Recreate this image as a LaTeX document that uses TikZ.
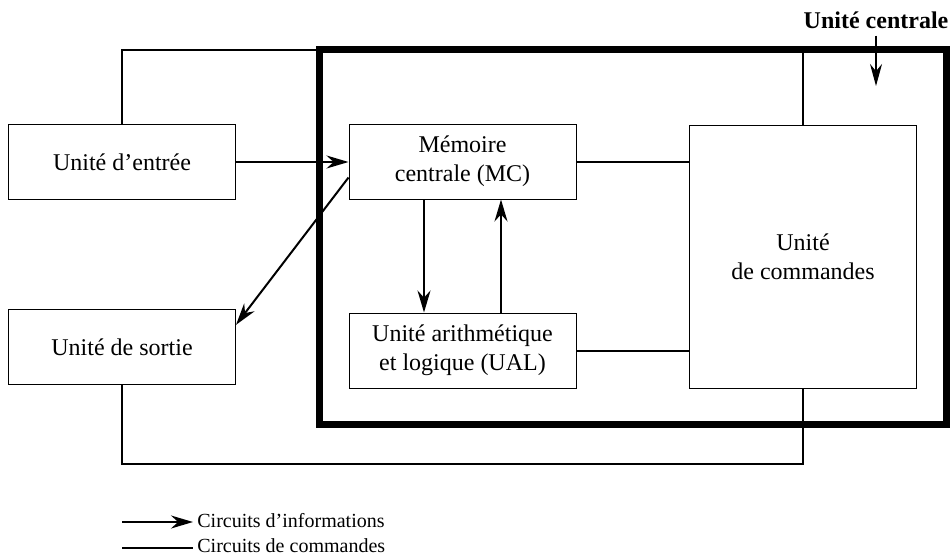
\documentclass[tikz,border=0pt]{standalone}
\usepackage{fontspec}
\setmainfont{Liberation Serif}
\usetikzlibrary{positioning, arrows.meta}

\begin{document}
\begin{tikzpicture}[
  x=0.5pt, y=-0.5pt,
  unit/.style={draw, line width=0.5pt, minimum width=113.5pt, minimum height=37.5pt, inner sep=0pt, align=center, font=\fontsize{12pt}{14.5pt}\selectfont},
  info/.style={line width=1pt, -{Stealth[length=11pt, width=6.5pt]}},
  cmdline/.style={line width=1pt},
  legend/.style={anchor=base west, inner sep=0pt, font=\fontsize{10pt}{12pt}\selectfont},
  >=Stealth
]
\useasboundingbox (0,0) rectangle (951,556);

% Central unit frame
\node[draw, line width=3.5pt, minimum width=313.5pt, minimum height=187.25pt, inner sep=0pt] (uc) at (633,236.75) {};
\node[font=\fontsize{12pt}{14.5pt}\selectfont\bfseries] (uclabel) at (876,20) {Unité centrale};
\coordinate (ucin) at (876,86);
\draw[line width=0.6pt, -{Stealth[length=11pt, width=6pt]}] (uclabel.south) -- (ucin);

% Units
\node[unit] (entree) at (122,162) {Unité d’entrée};
\node[unit] (sortie) at (122,347) {Unité de sortie};
\node[unit] (mc) at (462.5,161.5) {Mémoire\\centrale (MC)};
\node[unit] (ual) at (462.5,350.5) {Unité arithmétique\\et logique (UAL)};
\node[unit, minimum height=131.5pt] (cmd) at (803,256.5) {Unité\\de commandes};

% Information circuits
\draw[info] (entree.east) -- (entree.east -| mc.west);
\draw[info] (mc.188) -- (sortie.11);
\draw[info] ([xshift=-19.25pt]mc.south) -- ([xshift=-19.25pt]ual.north);
\draw[info] ([xshift=19.25pt]ual.north) -- ([xshift=19.25pt]mc.south);

% Command circuits
\draw[cmdline] (mc.east) -- (mc.east -| cmd.west);
\draw[cmdline] (ual.east) -- (ual.east -| cmd.west);
\draw[cmdline] (cmd.north) -- ++(0,-74) -| (entree.north);
\draw[cmdline] (sortie.south) -- ++(0,79) -| (cmd.south);

% Legend
\coordinate (infoA) at (122,522);
\coordinate (infoB) at (193,522);
\coordinate (cmdA) at (122,548);
\coordinate (cmdB) at (193,548);
\draw[info] (infoA) -- (infoB);
\draw[cmdline] (cmdA) -- (cmdB);
\node[legend] (infotxt) at (197,527) {Circuits d’informations};
\node[legend] (cmdtxt) at (197,552) {Circuits de commandes};

\end{tikzpicture}
\end{document}
